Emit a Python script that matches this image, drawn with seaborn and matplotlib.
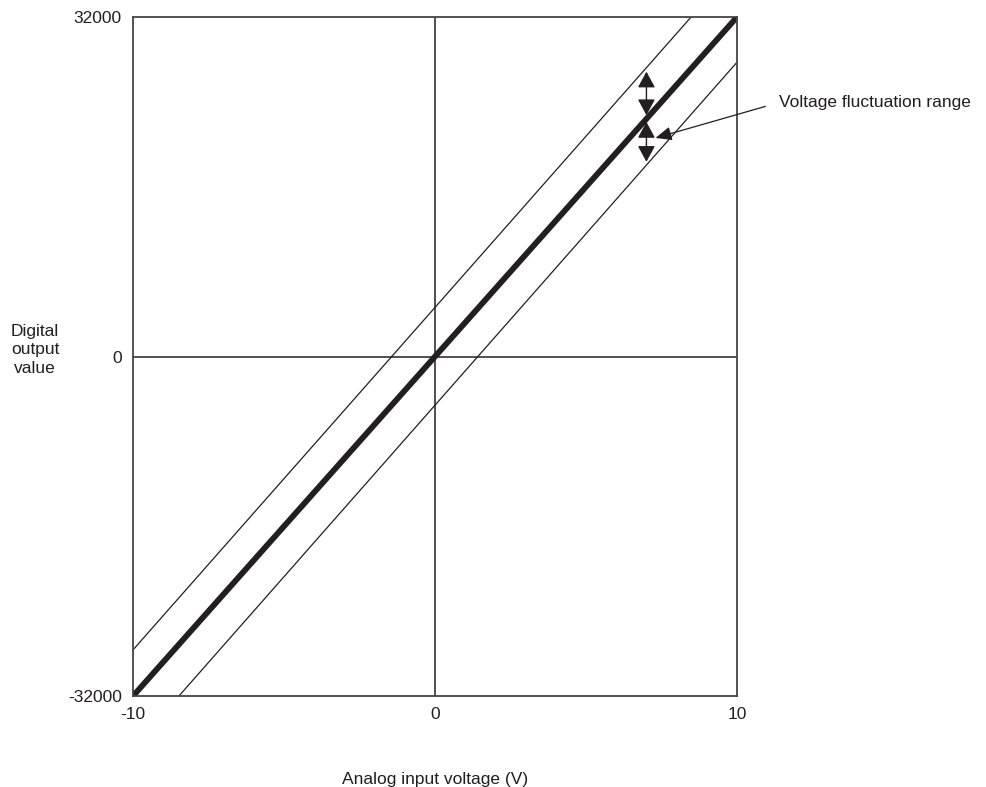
import matplotlib
matplotlib.use('Agg')
import matplotlib.pyplot as plt
import seaborn as sns
import pandas as pd

# Chart data
main_volt = [-10, 10]
main_value = [-32000, 32000]
upper_volt = [-10, 8.48]
upper_value = [-27650, 32000]
lower_volt = [-8.48, 10]
lower_value = [-32000, 27740]

# fluctuation arrows at 7 V
arrow_volt = 7
arrow_top = 26850
arrow_mid_hi = 22750
arrow_mid_lo = 22100
arrow_bottom = 18350

x_ticks = [-10, 0, 10]
y_ticks = [-32000, 0, 32000]

note_text = 'Voltage fluctuation range'
note_xy = (7.3, 20600)
note_text_xy = (11.4, 23950)

sns.set_style('white')
plt.rcParams['font.family'] = ['Liberation Sans', 'DejaVu Sans']
ink = '#231f20'

fig = plt.figure(figsize=(9.86, 7.87), dpi=100)
ax = fig.add_axes([0.1349, 0.1156, 0.6126, 0.8628])

main_df = pd.DataFrame({'volt': main_volt, 'value': main_value})
upper_df = pd.DataFrame({'volt': upper_volt, 'value': upper_value})
lower_df = pd.DataFrame({'volt': lower_volt, 'value': lower_value})

# center cross lines
ax.axhline(0, color=ink, lw=1.1, zorder=1)
ax.axvline(0, color=ink, lw=1.1, zorder=1)

sns.lineplot(data=upper_df, x='volt', y='value', color=ink, lw=0.9, ax=ax)
sns.lineplot(data=lower_df, x='volt', y='value', color=ink, lw=0.9, ax=ax)
sns.lineplot(data=main_df, x='volt', y='value', color=ink, lw=4.2, ax=ax,
             solid_capstyle='round')

# double-headed arrows
arrow_style = dict(arrowstyle='<|-|>,head_length=0.7,head_width=0.38', color=ink,
                   lw=1.0, shrinkA=0, shrinkB=0, mutation_scale=14)
ax.annotate('', xy=(arrow_volt, arrow_top), xytext=(arrow_volt, arrow_mid_hi),
            arrowprops=arrow_style)
ax.annotate('', xy=(arrow_volt, arrow_mid_lo), xytext=(arrow_volt, arrow_bottom),
            arrowprops=arrow_style)

ax.annotate(note_text, xy=note_xy, xytext=note_text_xy, fontsize=12.5, color=ink,
            ha='left', va='center', annotation_clip=False,
            arrowprops=dict(arrowstyle='-|>,head_length=0.7,head_width=0.3', color=ink,
                            lw=0.9, shrinkA=8, shrinkB=0, mutation_scale=14,
                            relpos=(0, 0.5)))

ax.set_xlim(-10, 10)
ax.set_ylim(-32000, 32000)
ax.set_xticks(x_ticks)
ax.set_yticks(y_ticks)
ax.set_xticklabels([str(t) for t in x_ticks])
ax.set_yticklabels([str(t) for t in y_ticks])
ax.tick_params(axis='both', length=0, labelsize=12.5, labelcolor=ink)
ax.tick_params(axis='x', pad=8)
ax.tick_params(axis='y', pad=8)

for s in ax.spines.values():
    s.set_color('#444444')
    s.set_linewidth(1.3)

ax.set_xlabel('Analog input voltage (V)', fontsize=12.5, color=ink, labelpad=36)
ax.set_ylabel('Digital\noutput\nvalue', fontsize=12.5, color=ink, rotation=0,
              ha='center', va='center', multialignment='center', linespacing=1.3)
ax.yaxis.set_label_coords(-0.162, 0.51)

fig.savefig('out.png', dpi=100)
